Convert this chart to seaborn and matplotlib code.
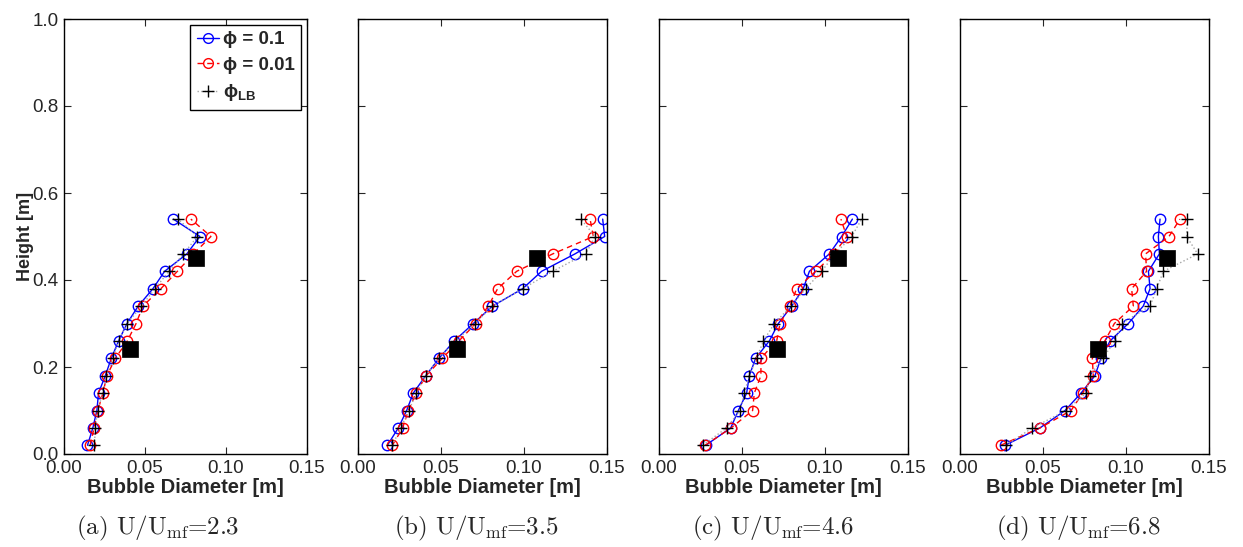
import numpy as np
import pandas as pd
import seaborn as sns
import matplotlib
matplotlib.use("Agg")
import matplotlib.pyplot as plt
from matplotlib.lines import Line2D

# ---------------- data ----------------
height = [0.02, 0.06, 0.10, 0.14, 0.18, 0.22, 0.26, 0.30, 0.34, 0.38, 0.42, 0.46, 0.50, 0.54]

# panel (a) U/Umf = 2.3
a_phi01 = [0.0145, 0.0178, 0.0203, 0.0213, 0.0255, 0.0292, 0.0337, 0.0389, 0.0458, 0.0549, 0.0621, 0.0758, 0.0839, 0.0675]
a_phi001 = [0.0161, 0.0186, 0.0209, 0.0240, 0.0265, 0.0317, 0.0391, 0.0445, 0.0487, 0.0598, 0.0700, 0.0799, 0.0907, 0.0783]
a_lb = [0.0188, 0.0193, 0.0207, 0.0240, 0.0261, 0.0302, 0.0337, 0.0389, 0.0478, 0.0561, 0.0648, 0.0737, 0.0824, 0.0704]
a_sq_x = [0.0406, 0.0814]

# panel (b) U/Umf = 3.5
b_phi01 = [0.0177, 0.0243, 0.0293, 0.0333, 0.0408, 0.0488, 0.0580, 0.0695, 0.0810, 0.0992, 0.1106, 0.1307, 0.1486, 0.1474]
b_phi001 = [0.0207, 0.0269, 0.0303, 0.0350, 0.0410, 0.0508, 0.0608, 0.0709, 0.0785, 0.0841, 0.0956, 0.1173, 0.1418, 0.1398]
b_lb = [0.0207, 0.0257, 0.0307, 0.0350, 0.0408, 0.0488, 0.0588, 0.0705, 0.0810, 0.0992, 0.1173, 0.1372, 0.1428, 0.1343]
b_sq_x = [0.0598, 0.1076]

# panel (c) U/Umf = 4.6
c_phi01 = [0.0281, 0.0432, 0.0478, 0.0528, 0.0544, 0.0582, 0.0665, 0.0719, 0.0799, 0.0869, 0.0906, 0.1026, 0.1100, 0.1165]
c_phi001 = [0.0277, 0.0434, 0.0564, 0.0574, 0.0614, 0.0614, 0.0709, 0.0729, 0.0789, 0.0829, 0.0944, 0.1054, 0.1131, 0.1096]
c_lb = [0.0263, 0.0408, 0.0488, 0.0514, 0.0544, 0.0588, 0.0629, 0.0695, 0.0795, 0.0884, 0.0980, 0.1060, 0.1161, 0.1221]
c_sq_x = [0.0709, 0.1080]

# panel (d) U/Umf = 6.8
d_phi01 = [0.0271, 0.0482, 0.0633, 0.0729, 0.0813, 0.0849, 0.0904, 0.1014, 0.1104, 0.1145, 0.1135, 0.1201, 0.1195, 0.1205]
d_phi001 = [0.0245, 0.0482, 0.0669, 0.0739, 0.0803, 0.0797, 0.0873, 0.0930, 0.1044, 0.1034, 0.1124, 0.1118, 0.1259, 0.1325]
d_lb = [0.0275, 0.0436, 0.0639, 0.0759, 0.0783, 0.0859, 0.0934, 0.0974, 0.1145, 0.1185, 0.1225, 0.1432, 0.1365, 0.1369]
d_sq_x = [0.0829, 0.1245]

sq_height = [0.242, 0.451]

captions = [r"(a) U/U$_{\mathrm{mf}}$=2.3", r"(b) U/U$_{\mathrm{mf}}$=3.5",
            r"(c) U/U$_{\mathrm{mf}}$=4.6", r"(d) U/U$_{\mathrm{mf}}$=6.8"]
x_ticks = [0.0, 0.05, 0.10, 0.15]
x_ticklabels = ["0.00", "0.05", "0.10", "0.15"]
y_ticks = [0.0, 0.2, 0.4, 0.6, 0.8, 1.0]
y_ticklabels = ["0.0", "0.2", "0.4", "0.6", "0.8", "1.0"]
legend_labels = ["\u03d5 = 0.1", "\u03d5 = 0.01", "\u03d5$_{\\mathbf{LB}}$"]

panels = [(a_phi01, a_phi001, a_lb, a_sq_x),
          (b_phi01, b_phi001, b_lb, b_sq_x),
          (c_phi01, c_phi001, c_lb, c_sq_x),
          (d_phi01, d_phi001, d_lb, d_sq_x)]

# ---------------- style ----------------
sns.set_style("ticks")
plt.rcParams['font.family'] = ['Liberation Sans', 'DejaVu Sans']
plt.rcParams['mathtext.fontset'] = 'custom'
plt.rcParams['mathtext.rm'] = 'cmr10'
plt.rcParams['mathtext.bf'] = 'Liberation Sans:bold'
plt.rcParams['axes.unicode_minus'] = False

W, H = 1243, 547
fig = plt.figure(figsize=(W / 100, H / 100), dpi=100)

# pixel boxes (left, right) ; top 19, bottom 454
boxes = [(64, 307), (358, 607), (659, 908), (960, 1209)]
top_px, bot_px = 19, 454
caption_x = [158, 476, 773, 1078]

for i, ((p01, p001, plb, sqx), (l, r)) in enumerate(zip(panels, boxes)):
    ax = fig.add_axes([l / W, 1 - bot_px / H, (r - l) / W, (bot_px - top_px) / H])
    sns.lineplot(x=p01, y=height, sort=False, estimator=None, ax=ax, color='blue',
                 linestyle='-', linewidth=1.0, marker='o', markersize=7.5,
                 markerfacecolor='none', markeredgecolor='blue', markeredgewidth=1.0)
    sns.lineplot(x=p001, y=height, sort=False, estimator=None, ax=ax, color='red',
                 linestyle=(0, (4, 3)), linewidth=1.0, marker='o', markersize=7.5,
                 markerfacecolor='none', markeredgecolor='red', markeredgewidth=1.0)
    sns.lineplot(x=plb, y=height, sort=False, estimator=None, ax=ax, color='0.65',
                 linestyle=':', linewidth=1.0, marker='+', markersize=8,
                 markeredgecolor='black', markeredgewidth=1.0)
    sns.scatterplot(x=sqx, y=sq_height, ax=ax, marker='s', s=120, color='black',
                    edgecolor='black', linewidth=0.5, zorder=5)
    ax.set_xlim(0, 0.15)
    ax.set_ylim(0, 1.0)
    ax.set_xticks(x_ticks)
    ax.set_xticklabels(x_ticklabels)
    ax.set_yticks(y_ticks)
    ax.tick_params(direction='in', top=True, right=True, length=5, width=0.8,
                   labelsize=13.5, pad=4)
    for s in ax.spines.values():
        s.set_linewidth(1.0)
        s.set_color('black')
    if i == 0:
        ax.set_yticklabels(y_ticklabels)
        ax.set_ylabel("Height [m]", fontsize=13, fontweight='bold', labelpad=-1)
        handles = [
            Line2D([], [], color='blue', linestyle='-', marker='o', markersize=7,
                   markerfacecolor='none', markeredgecolor='blue', linewidth=1.0),
            Line2D([], [], color='red', linestyle=(0, (4, 3)), marker='o', markersize=7,
                   markerfacecolor='none', markeredgecolor='red', linewidth=1.0),
            Line2D([], [], color='0.65', linestyle=':', marker='+', markersize=8,
                   markeredgecolor='black', linewidth=1.0),
        ]
        leg = ax.legend(handles, legend_labels, loc='upper right',
                        prop={'weight': 'bold', 'size': 13.5}, handlelength=1.2,
                        handletextpad=0.2, borderpad=0.35, labelspacing=0.45,
                        fancybox=False, framealpha=1, edgecolor='black',
                        borderaxespad=0.3)
        leg.get_frame().set_linewidth(1.0)
    else:
        ax.set_yticklabels([])
        ax.set_ylabel("")
    ax.set_xlabel("Bubble Diameter [m]", fontsize=14.5, fontweight='bold', labelpad=1)
    fig.text(caption_x[i] / W, 1 - 528 / H, captions[i], ha='center', va='center',
             fontsize=18, family='cmr10')

fig.savefig("out.png", dpi=100)
